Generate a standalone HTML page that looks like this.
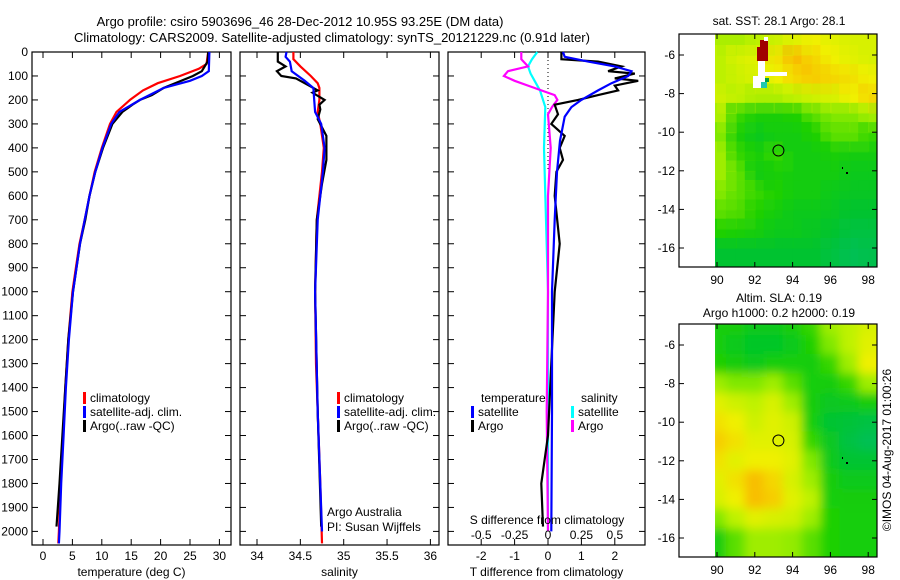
<!DOCTYPE html>
<html><head><meta charset="utf-8"><style>
body{margin:0;background:#fff}
svg{display:block;font-family:"Liberation Sans",sans-serif}
</style></head><body>
<svg id="c" width="900" height="580" viewBox="0 0 900 580" xmlns="http://www.w3.org/2000/svg">
<defs>
<filter id="blur" x="0" y="0" width="1" height="1"><feGaussianBlur stdDeviation="5"/></filter>
<clipPath id="clip1"><rect x="715" y="34" width="162" height="233"/></clipPath>
<clipPath id="clip2"><rect x="715" y="324" width="162" height="233"/></clipPath>
</defs>
<text x="300" y="26" font-size="13" text-anchor="middle">Argo profile: csiro 5903696_46 28-Dec-2012 10.95S 93.25E (DM data)</text>
<text x="332" y="42" font-size="13" text-anchor="middle">Climatology: CARS2009. Satellite-adjusted climatology: synTS_20121229.nc (0.91d later)</text>
<text x="779" y="25" font-size="12" text-anchor="middle">sat. SST: 28.1 Argo: 28.1</text>
<text x="779" y="302" font-size="12" text-anchor="middle">Altim. SLA: 0.19</text>
<text x="779" y="317" font-size="12" text-anchor="middle">Argo h1000: 0.2 h2000: 0.19</text>
<text transform="translate(891,450) rotate(-90)" font-size="12" text-anchor="middle">©IMOS 04-Aug-2017 01:00:26</text>
<g id="g"></g>
</svg>
<script>
// ---- data ----
const depthTicks=[0,100,200,300,400,500,600,700,800,900,1000,1100,1200,1300,1400,1500,1600,1700,1800,1900,2000];
const tempTicks=[0,5,10,15,20,25,30];
const salTicks=[34,34.5,35,35.5,36];
const tdiffTicks=[-2,-1,0,1,2];
const sdiffTicks=[-0.5,-0.25,0,0.25,0.5];
const sdiffLabels=["-0.5","-0.25","0","0.25","0.5"];
const mapLonTicks=[90,92,94,96,98];
const mapLatTicks=[-6,-8,-10,-12,-14,-16];

const tempClimD=[0,50,70,100,130,160,200,250,300,400,500,600,700,800,900,1000,1200,1400,1600,1800,2000,2050];
const tempClimV=[28.1,27.8,26.5,23.3,19.5,17,14.8,12.5,11.4,10,8.8,7.9,7.1,6.2,5.6,5.0,4.3,3.8,3.4,3.0,2.7,2.6];
const tempSatD=[0,80,100,120,150,200,250,300,400,500,600,700,800,900,1000,1200,1400,1600,1800,2000,2050];
const tempSatV=[28.3,28.2,27,25,20.5,16.5,13,11.6,10.1,8.9,7.9,7.1,6.3,5.7,5.1,4.4,3.9,3.5,3.1,2.8,2.7];
const tempArgoD=[0,40,80,100,150,180,200,220,250,300,400,500,600,700,800,900,1000,1200,1400,1600,1800,1980];
const tempArgoV=[28.1,28,27,25.5,20.5,18.5,16.5,15.2,13.5,11.8,10.2,8.9,7.9,7.2,6.3,5.7,5.1,4.3,3.8,3.3,2.8,2.3];

const salClimD=[0,30,60,100,130,150,200,250,300,400,500,700,1000,1300,1500,1800,2050];
const salClimV=[34.42,34.42,34.5,34.62,34.7,34.72,34.72,34.7,34.73,34.77,34.75,34.69,34.67,34.68,34.7,34.73,34.75];
const salSatD=[0,20,40,80,120,150,200,250,300,400,500,700,1000,1500,2000];
const salSatV=[34.34,34.33,34.38,34.4,34.55,34.65,34.66,34.67,34.74,34.78,34.76,34.7,34.67,34.7,34.75];
const salArgoD=[0,40,60,80,100,110,140,160,170,200,220,240,280,350,450,550,700,1000,1500,1980];
const salArgoV=[34.24,34.24,34.33,34.23,34.28,34.45,34.6,34.7,34.64,34.78,34.72,34.73,34.7,34.8,34.8,34.75,34.69,34.67,34.7,34.74];

const tdSatD=[0,20,40,60,80,100,130,160,200,230,270,370,500,700,1000,1500,2000];
const tdSatV=[0.45,0.5,1.2,2.0,2.5,2.4,1.9,1.5,1.0,0.7,0.5,0.36,0.27,0.2,0.12,0.12,0.1];
const tdArgoD=[0,30,40,60,80,90,110,120,140,160,180,200,220,260,300,350,400,450,500,600,800,1000,1300,1600,1800,1980];
const tdArgoV=[0.4,0.4,1.5,2.2,1.8,2.6,2.0,2.7,2.0,2.1,1.5,0.9,0.2,0.3,0.1,0.5,0.35,0.45,0.25,0.2,0.35,0.2,0.1,0.0,-0.2,-0.15];
const sdSatD=[0,30,60,90,120,160,230,400,1000,2000];
const sdSatV=[-0.08,-0.12,-0.15,-0.13,-0.1,-0.06,-0.02,-0.03,0,0];
const sdArgoD=[0,30,60,80,100,120,140,160,180,200,230,260,400,600,1000,1500,2000];
const sdArgoV=[-0.2,-0.2,-0.15,-0.3,-0.33,-0.25,-0.15,-0.05,0.05,0.07,0.03,0,0.02,0,0,-0.01,0];

const sstGrid=[
[0.62,0.62,0.65,0.68,0.72,0.75,0.72,0.7,0.7],
[0.65,0.7,0.72,0.78,0.85,0.8,0.75,0.72,0.7],
[0.65,0.68,0.7,0.75,0.8,0.82,0.8,0.78,0.75],
[0.68,0.65,0.62,0.62,0.65,0.68,0.7,0.75,0.8],
[0.62,0.45,0.4,0.4,0.42,0.5,0.55,0.55,0.6],
[0.55,0.4,0.35,0.38,0.38,0.42,0.5,0.5,0.45],
[0.6,0.45,0.4,0.45,0.38,0.38,0.4,0.38,0.38],
[0.6,0.5,0.38,0.4,0.38,0.38,0.38,0.35,0.35],
[0.55,0.5,0.45,0.42,0.38,0.38,0.35,0.33,0.33],
[0.5,0.48,0.42,0.38,0.35,0.35,0.33,0.3,0.3],
[0.42,0.4,0.38,0.35,0.35,0.33,0.3,0.25,0.25],
[0.3,0.3,0.3,0.3,0.3,0.3,0.25,0.2,0.22]];
const slaGrid=[
[0.4,0.38,0.35,0.35,0.38,0.45,0.6,0.65,0.7],
[0.4,0.35,0.32,0.32,0.35,0.42,0.55,0.65,0.72],
[0.42,0.38,0.35,0.4,0.4,0.38,0.45,0.6,0.75],
[0.6,0.55,0.55,0.6,0.5,0.4,0.38,0.45,0.6],
[0.72,0.68,0.65,0.7,0.6,0.38,0.33,0.35,0.38],
[0.78,0.75,0.68,0.72,0.68,0.4,0.3,0.28,0.25],
[0.82,0.78,0.72,0.72,0.7,0.45,0.33,0.25,0.2],
[0.78,0.72,0.75,0.75,0.72,0.55,0.35,0.3,0.3],
[0.72,0.78,0.85,0.8,0.7,0.6,0.38,0.35,0.35],
[0.7,0.75,0.85,0.82,0.72,0.65,0.4,0.38,0.38],
[0.55,0.65,0.72,0.7,0.68,0.6,0.42,0.4,0.4],
[0.38,0.5,0.6,0.6,0.58,0.5,0.42,0.4,0.4]];
const floatLon=93.25, floatLat=-10.95;

// ---- helpers ----
const NS="http://www.w3.org/2000/svg";
const G=document.getElementById('g');
function mk(tag,attrs,parent){const e=document.createElementNS(NS,tag);for(const k in attrs)e.setAttribute(k,attrs[k]);(parent||G).appendChild(e);return e;}
const Y0=52, YS=0.2397, YB=545;
const yD=d=>Y0+d*YS;
const xT=v=>43+v*5.88;
const xS=v=>257+(v-34)*86.7;
const xTD=v=>548+v*33.4;
const xSD=v=>548+v*133.6;

function panel(x0,x1,name,xf,ticks,labels,xtitle){
  const r=mk('rect',{x:x0,y:Y0,width:x1-x0,height:YB-Y0,fill:'none',stroke:'#000','stroke-width':1.2});
  
  
  depthTicks.forEach(d=>{
    mk('line',{x1:x0,x2:x0+6,y1:yD(d),y2:yD(d),stroke:'#000'});
    mk('line',{x1:x1-6,x2:x1,y1:yD(d),y2:yD(d),stroke:'#000'});
  });
  ticks.forEach((t,i)=>{
    const x=xf(t);
    mk('line',{x1:x,x2:x,y1:Y0,y2:Y0+6,stroke:'#000'});
    mk('line',{x1:x,x2:x,y1:YB-6,y2:YB,stroke:'#000'});
    const tx=mk('text',{x:x,y:560,'font-size':12,'text-anchor':'middle'});
    tx.textContent=labels?labels[i]:String(t);
    
    
  });
  const tt=mk('text',{x:(x0+x1)/2,y:576,'font-size':12,'text-anchor':'middle'});
  tt.textContent=xtitle;
  
  
}
function line(D,V,xf,color,name){
  const pts=D.map((d,i)=>xf(V[i]).toFixed(1)+','+yD(d).toFixed(1)).join(' ');
  const p=mk('polyline',{points:pts,fill:'none',stroke:color,'stroke-width':2.2,'stroke-linejoin':'miter'});
  
  
}
function legend(x,y,color,label,name){
  mk('rect',{x:x,y:y-10,width:3,height:12,fill:color});
  const t=mk('text',{x:x+7,y:y,'font-size':12});
  t.textContent=label;
  
  
}
function txt(x,y,s,name,anchor){
  const t=mk('text',{x:x,y:y,'font-size':12,'text-anchor':anchor||'start'});
  t.textContent=s;
  
  
}

// depth labels
depthTicks.forEach(d=>{
  const t=mk('text',{x:28,y:yD(d)+4,'font-size':12,'text-anchor':'end'});
  t.textContent=String(d);
  
  
});

// panel 1 temperature
panel(32,231,'temperature-panel',xT,tempTicks,null,'temperature (deg C)');
line(tempClimD,tempClimV,xT,'#ff0000','temp-climatology-line');
line(tempArgoD,tempArgoV,xT,'#000000','temp-argo-line');
line(tempSatD,tempSatV,xT,'#0000ff','temp-satellite-line');
legend(83,402,'#ff0000','climatology','legend-climatology');
legend(83,416,'#0000ff','satellite-adj. clim.','legend-satellite');
legend(83,430,'#000000','Argo(..raw -QC)','legend-argo');

// panel 2 salinity
panel(240,439,'salinity-panel',xS,salTicks,null,'salinity');
line(salClimD,salClimV,xS,'#ff0000','sal-climatology-line');
line(salArgoD,salArgoV,xS,'#000000','sal-argo-line');
line(salSatD,salSatV,xS,'#0000ff','sal-satellite-line');
legend(337,402,'#ff0000','climatology','legend-climatology-2');
legend(337,416,'#0000ff','satellite-adj. clim.','legend-satellite-2');
legend(337,430,'#000000','Argo(..raw -QC)','legend-argo-2');
txt(327,516,'Argo Australia','argo-australia-label');
txt(327,531,'PI: Susan Wijffels','pi-label');

// panel 3 differences
panel(448,645,'difference-panel',xTD,tdiffTicks,null,'T difference from climatology');
mk('line',{x1:548,x2:548,y1:Y0,y2:yD(500),stroke:'#000','stroke-dasharray':'1,3'});
line(sdSatD,sdSatV,xSD,'#00ffff','sdiff-satellite-line');
line(sdArgoD,sdArgoV,xSD,'#ff00ff','sdiff-argo-line');
line(tdArgoD,tdArgoV,xTD,'#000000','tdiff-argo-line');
line(tdSatD,tdSatV,xTD,'#0000ff','tdiff-satellite-line');
txt(481,402,'temperature','legend-temperature-header');
txt(581,402,'salinity','legend-salinity-header');
legend(471,416,'#0000ff','satellite','legend-tdiff-satellite');
legend(471,430,'#000000','Argo','legend-tdiff-argo');
legend(571,416,'#00ffff','satellite','legend-sdiff-satellite');
legend(571,430,'#ff00ff','Argo','legend-sdiff-argo');
txt(547,524,'S difference from climatology','sdiff-axis-title','middle');
sdiffTicks.forEach((t,i)=>txt(xSD(t),539,sdiffLabels[i],'sdiff-tick-label','middle'));

// ---- maps ----
const stops=[[0,[0,184,154]],[0.3,[0,196,48]],[0.42,[30,208,0]],[0.55,[128,232,0]],[0.65,[190,242,0]],[0.75,[240,240,0]],[0.85,[248,190,0]],[1,[150,0,0]]];
function cmap(v){for(let i=1;i<stops.length;i++){if(v<=stops[i][0]){const a=stops[i-1],b=stops[i],f=(v-a[0])/(b[0]-a[0]);return 'rgb('+a[1].map((c,k)=>Math.round(c+(b[1][k]-c)*f)).join(',')+')';}}return 'rgb(150,0,0)';}
function map(top,grid,clip,name,blur){
  const lon=v=>717+(v-90)*18.9;
  const lat=v=>top+21+(-6-v)*19.3;
  const grp=mk('g',{'clip-path':'url(#'+clip+')'});
  
  
  const inner=mk('g',{filter:'url(#blur)'},grp);
  if(!blur)inner.removeAttribute('filter');
  grid.forEach((row,r)=>row.forEach((v,c)=>{
    const x0=lon(90+c)-10, y0=lat(-5-r)-10;
    mk('rect',{x:x0,y:y0,width:19.9+20,height:20.3+20,fill:cmap(v)},inner);
  }));
  grid.forEach((row,r)=>row.forEach((v,c)=>{
    mk('rect',{x:lon(90+c),y:lat(-5-r),width:19.9,height:20.3,fill:cmap(v),opacity:blur?0:0.35},grp);
  }));
  const fr=mk('rect',{x:679,y:top,width:198,height:233,fill:'none',stroke:'#000','stroke-width':1.2});
  
  
  mapLonTicks.forEach(t=>{
    mk('line',{x1:lon(t),x2:lon(t),y1:top,y2:top+5,stroke:'#000'});
    mk('line',{x1:lon(t),x2:lon(t),y1:top+228,y2:top+233,stroke:'#000'});
    txt(lon(t),top+250,String(t),name+'-lon-label','middle');
  });
  mapLatTicks.forEach(t=>{
    mk('line',{x1:679,x2:684,y1:lat(t),y2:lat(t),stroke:'#000'});
    mk('line',{x1:872,x2:877,y1:lat(t),y2:lat(t),stroke:'#000'});
    txt(675,lat(t)+4,String(t),name+'-lat-label','end');
  });
  const m=mk('circle',{cx:lon(floatLon),cy:lat(floatLat),r:5.5,fill:'none',stroke:'#000','stroke-width':1});
  
  
  mk('rect',{x:842,y:top+133,width:1,height:2,fill:'#000'});
  mk('rect',{x:846,y:top+138,width:2,height:2,fill:'#000'});
  return {lon,lat};
}
const m1=map(34,sstGrid,'clip1','sst-map',false);
// SST missing-data / hot artifact (pixel positions)
mk('rect',{x:757,y:47,width:11,height:14,fill:'#a00000'});
mk('rect',{x:760,y:40,width:8,height:8,fill:'#a00000'});
mk('rect',{x:764,y:37,width:4,height:4,fill:'#fff'});
mk('rect',{x:758,y:61,width:7,height:27,fill:'#fff'});
mk('rect',{x:758,y:72,width:29,height:4,fill:'#fff'});
mk('rect',{x:753,y:76,width:8,height:12,fill:'#fff'});
mk('rect',{x:761,y:82,width:6,height:6,fill:'#20c8b0'});
mk('rect',{x:765,y:78,width:4,height:4,fill:'#00a040'});
const m2=map(324,slaGrid,'clip2','sla-map',true);
</script>
</body></html>
